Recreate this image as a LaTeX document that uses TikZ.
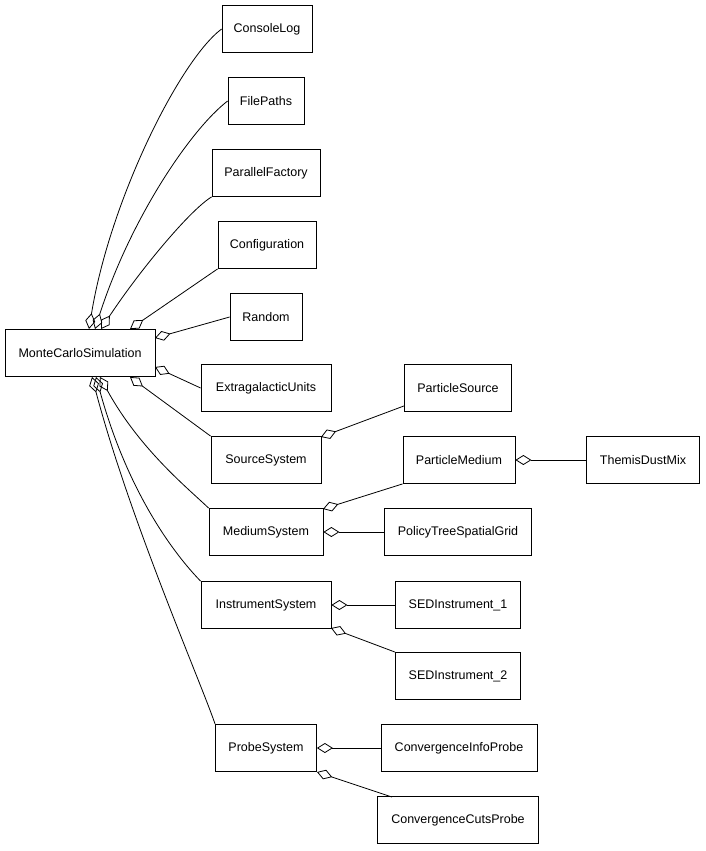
\documentclass[tikz,border=0pt]{standalone}
\usepackage{fontspec}
\setmainfont{Liberation Sans}
\usetikzlibrary{arrows.meta,calc}
\begin{document}
\begin{tikzpicture}[x=1pt,y=-1pt,
 box/.style={draw,thick,inner sep=0pt,minimum height=47pt,font=\fontsize{12.5}{15}\selectfont},
 ag/.style={thick,{Diamond[open,length=16pt,width=10pt]}-}]
\useasboundingbox (0,0) rectangle (706,851);
\node[box,minimum width=150pt] (mcs) at (80,353) {MonteCarloSimulation};
\node[box,minimum width=90pt] (cl) at (267,29) {ConsoleLog};
\node[box,minimum width=76pt] (fp) at (266,101) {FilePaths};
\node[box,minimum width=108pt] (pf) at (266,173) {ParallelFactory};
\node[box,minimum width=98pt] (cf) at (267,245) {Configuration};
\node[box,minimum width=72pt] (rd) at (266,317) {Random};
\node[box,minimum width=130pt] (eu) at (266,388) {ExtragalacticUnits};
\node[box,minimum width=110pt] (ss) at (266,460) {SourceSystem};
\node[box,minimum width=114pt] (ms) at (266,532) {MediumSystem};
\node[box,minimum width=130pt] (is) at (266,605) {InstrumentSystem};
\node[box,minimum width=101pt] (ps) at (266,748) {ProbeSystem};
\node[box,minimum width=107pt] (psrc) at (458,388) {ParticleSource};
\node[box,minimum width=112pt] (pm) at (459,460) {ParticleMedium};
\node[box,minimum width=113pt] (td) at (643,460) {ThemisDustMix};
\node[box,minimum width=147pt] (pt) at (458,532) {PolicyTreeSpatialGrid};
\node[box,minimum width=125pt] (s1) at (458,605) {SEDInstrument\_1};
\node[box,minimum width=125pt] (s2) at (458,676) {SEDInstrument\_2};
\node[box,minimum width=156pt] (ci) at (459,748) {ConvergenceInfoProbe};
\node[box,minimum width=161pt] (cc) at (458,820) {ConvergenceCutsProbe};
\coordinate (a1) at (89,329); \coordinate (a2) at (95,329);
\coordinate (a3) at (101,329); \coordinate (a4) at (130,329);
\coordinate (a5) at (155,338); \coordinate (a6) at (155,367);
\coordinate (b1) at (130,377); \coordinate (b2) at (100,377);
\coordinate (b3) at (96,377); \coordinate (b4) at (92,377);
\coordinate (c1) at (321,437); \coordinate (c2) at (323,509);
\coordinate (c3) at (331,628); \coordinate (c4) at (317,772);
\coordinate (d1) at (392,797);
\draw[ag] (a1) .. controls (110,200) and (180,60) .. (cl.west);
\draw[ag] (a2) .. controls (130,220) and (190,130) .. (fp.west);
\draw[ag] (a3) .. controls (140,270) and (190,210) .. (pf.south west);
\draw[ag] (a4) -- (cf.south west);
\draw[ag] (a5) -- (rd.west);
\draw[ag] (a6) -- (eu.west);
\draw[ag] (b1) -- (ss.north west);
\draw[ag] (b2) .. controls (140,450) and (190,490) .. (ms.north west);
\draw[ag] (b3) .. controls (130,500) and (180,560) .. (is.north west);
\draw[ag] (b4) .. controls (130,520) and (200,680) .. (ps.north west);
\draw[ag] (c1) -- ($(psrc.south west)+(0,-6)$);
\draw[ag] (c2) -- (pm.south west);
\draw[ag] (pm.east) -- (td.west);
\draw[ag] (ms.east) -- (pt.west);
\draw[ag] (is.east) -- (s1.west);
\draw[ag] (c3) -- (s2.north west);
\draw[ag] (ps.east) -- (ci.west);
\draw[ag] (c4) -- (d1);
\end{tikzpicture}
\end{document}
